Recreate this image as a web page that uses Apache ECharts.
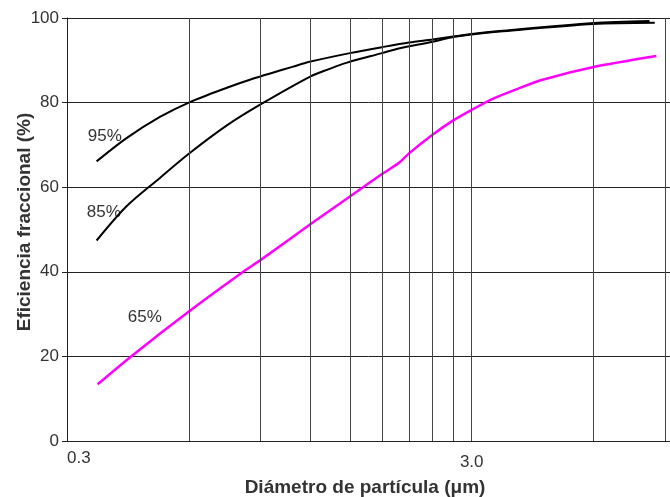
<!DOCTYPE html>
<html>
<head>
<meta charset="utf-8">
<script src="https://cdn.jsdelivr.net/npm/echarts@6/dist/echarts.min.js"></script>
<style>
html,body{margin:0;padding:0;background:#fff;}
#chart{width:670px;height:497px;}
</style>
</head>
<body>
<div id="chart"></div>
<script>
// ---- data ----
const xMin = 0.3;
const xMax = 9.27;
const xGridValues = [0.6, 0.9, 1.2, 1.5, 1.8, 2.1, 2.4, 2.7, 3.0, 6.0, 9.0];
const xTickLabels = [0.3, 3.0];

const eff95X = [0.355, 0.421, 0.509, 0.6, 0.745, 0.849, 1.086, 1.2, 1.5, 1.8, 2.1, 2.4, 2.7, 3.0, 3.52, 6.0, 8.25];
const eff95Y = [66.1, 71.6, 76.6, 80.0, 83.5, 85.4, 88.5, 89.7, 91.7, 93.1, 94.2, 94.9, 95.6, 96.2, 96.9, 98.8, 99.3];

const eff85X = [0.355, 0.421, 0.509, 0.6, 0.745, 0.9, 1.2, 1.33, 1.47, 1.8, 1.98, 2.4, 2.7, 3.0, 3.52, 6.0, 8.5];
const eff85Y = [47.4, 55.5, 62.2, 67.9, 74.6, 79.5, 86.2, 87.9, 89.4, 91.7, 92.8, 94.4, 95.5, 96.1, 96.8, 98.6, 98.9];

const eff65X = [0.357, 0.432, 0.6, 0.8175, 0.9, 1.2, 1.5, 1.8, 1.98, 2.1, 2.4, 2.7, 3.0, 3.38, 3.88, 4.49, 6.0, 8.58];
const eff65Y = [13.4, 20.0, 30.6, 40.0, 42.7, 51.3, 57.8, 63.1, 65.7, 68.0, 72.4, 75.8, 78.3, 80.9, 83.2, 85.4, 88.4, 91.0];

const curveNames = ['95%', '85%', '65%'];
const curveLabelX = [0.372, 0.370, 0.467];
const curveLabelY = [72.1, 54.1, 29.3];

// ---- chart ----
const zip = (xs, ys) => xs.map((x, i) => [x, ys[i]]);
const chart = echarts.init(document.getElementById('chart'), null, {renderer: 'canvas'});
const textColor = '#333';
const fontFam = 'Liberation Sans, Arial, sans-serif';

const option = {
  animation: false,
  backgroundColor: '#fff',
  grid: {left: 67, right: 0, top: 18, bottom: 56, outerBoundsMode: 'none', containLabel: false},
  xAxis: {
    type: 'log', logBase: 10, min: xMin, max: xMax,
    name: 'Diámetro de partícula (μm)', nameLocation: 'middle', nameGap: 37, nameMoveOverlap: false,
    nameTextStyle: {fontFamily: fontFam, fontWeight: 'bold', fontSize: 19, color: textColor, padding: [0, 7, 0, 0]},
    axisLine: {show: true, lineStyle: {color: '#222', width: 1}},
    axisTick: {show: false}, axisLabel: {show: false}, splitLine: {show: false}, minorSplitLine: {show: false}
  },
  yAxis: {
    type: 'value', min: 0, max: 100, interval: 20,
    name: 'Eficiencia fraccional (%)', nameLocation: 'middle', nameGap: 33, nameMoveOverlap: false,
    nameTextStyle: {fontFamily: fontFam, fontWeight: 'bold', fontSize: 19, color: textColor, padding: [0, 0, 0, 15]},
    axisLine: {show: true, lineStyle: {color: '#222', width: 1}},
    axisTick: {show: true, length: 5, lineStyle: {color: '#222'}},
    axisLabel: {fontFamily: fontFam, fontSize: 17, color: textColor, margin: 8},
    splitLine: {show: true, lineStyle: {color: '#222', width: 1}}
  },
  series: [
    {
      type: 'line', data: [], silent: true,
      markLine: {
        silent: true, symbol: 'none', animation: false,
        label: {show: false},
        lineStyle: {color: '#444', width: 1, type: 'solid'},
        emphasis: {disabled: true},
        data: xGridValues.map(v => ({xAxis: v}))
      }
    },
    {
      name: '95%', type: 'line', data: zip(eff95X, eff95Y), smooth: 0.3, showSymbol: false,
      lineStyle: {color: '#000', width: 2}, itemStyle: {color: '#000'}
    },
    {
      name: '85%', type: 'line', data: zip(eff85X, eff85Y), smooth: 0.3, showSymbol: false,
      lineStyle: {color: '#000', width: 2}, itemStyle: {color: '#000'}
    },
    {
      name: '65%', type: 'line', data: zip(eff65X, eff65Y), smooth: 0.25, showSymbol: false,
      lineStyle: {color: '#ff00ff', width: 2.5}, itemStyle: {color: '#ff00ff'}
    },
    {
      type: 'scatter', silent: true, symbolSize: 1, itemStyle: {color: 'rgba(0,0,0,0)', opacity: 1},
      label: {show: true, position: 'inside', fontFamily: fontFam, fontSize: 17, color: textColor, opacity: 1,
        formatter: p => curveNames[p.dataIndex]},
      data: curveLabelX.map((x, i) => [x, curveLabelY[i]])
    },
    {
      type: 'scatter', silent: true, symbolSize: 1, itemStyle: {color: 'rgba(0,0,0,0)', opacity: 1}, clip: false,
      label: {show: true, position: 'bottom', fontFamily: fontFam, fontSize: 17, color: textColor, opacity: 1,
        formatter: p => p.value[0].toFixed(1)},
      data: [
        {value: [xTickLabels[0], 0], label: {align: 'left', distance: 8}},
        {value: [xTickLabels[1], 0], label: {align: 'center', distance: 12}}
      ]
    }
  ]
};
chart.setOption(option);
</script>
</body>
</html>
